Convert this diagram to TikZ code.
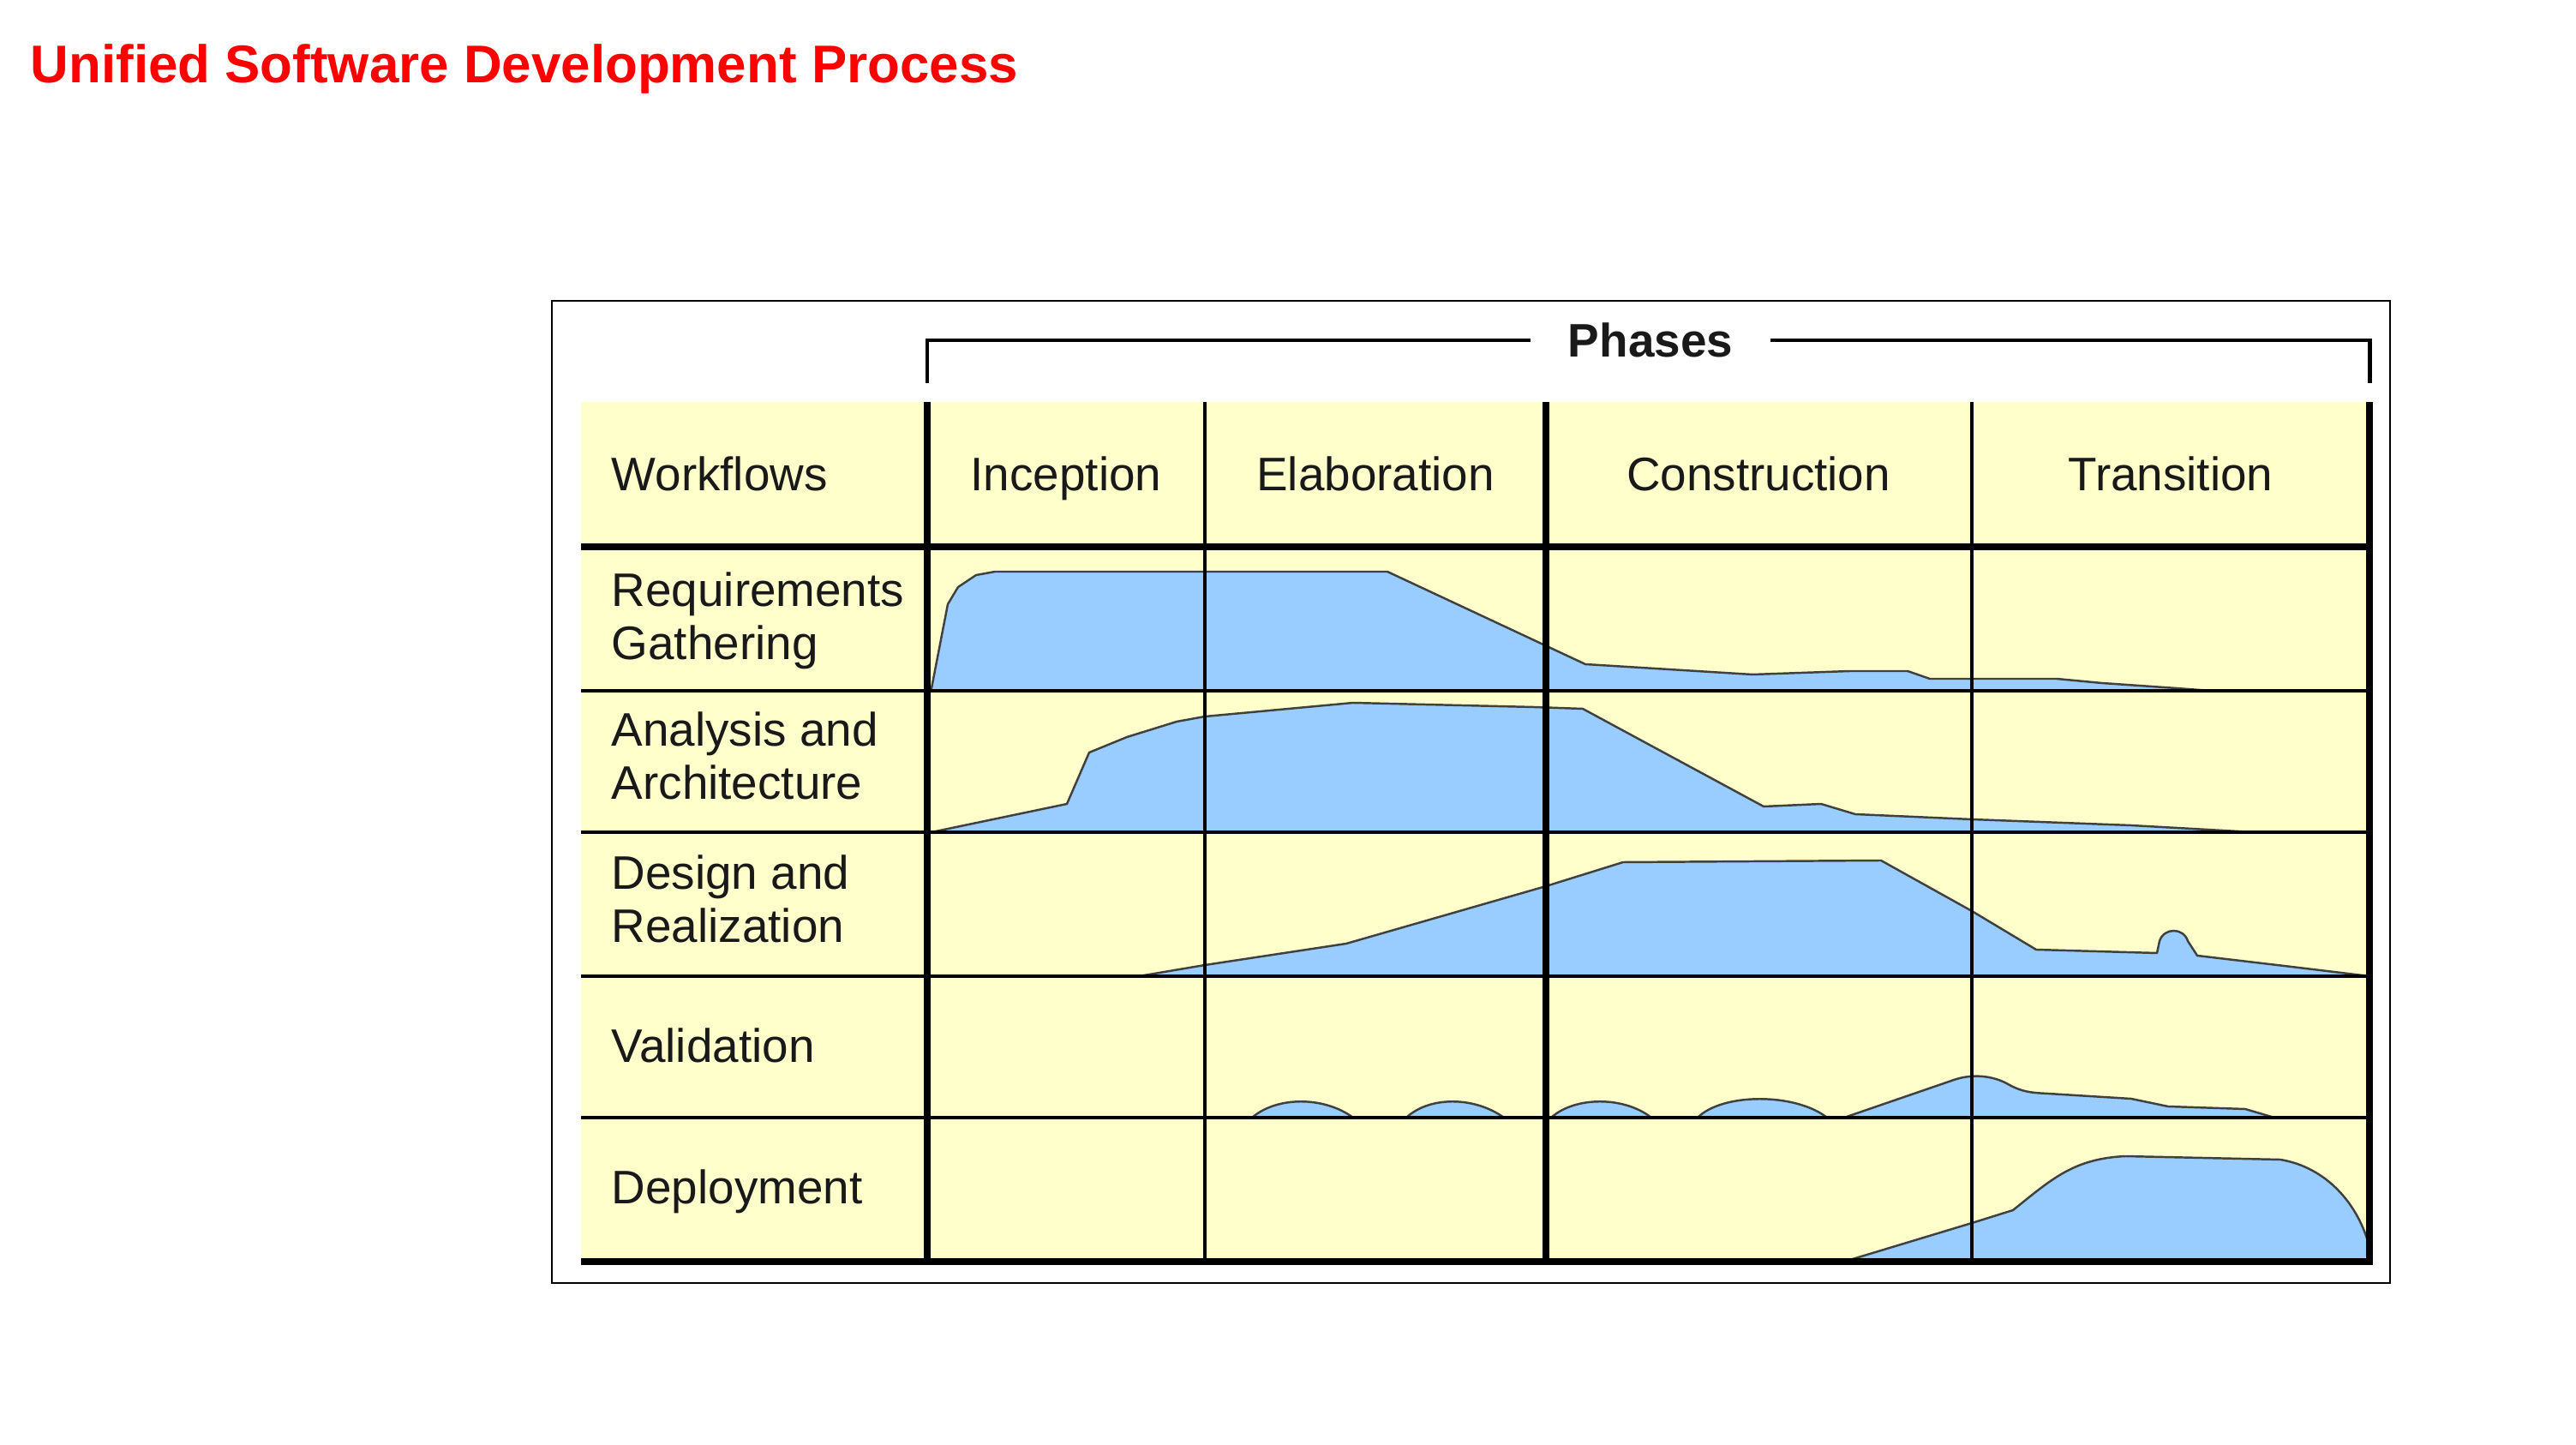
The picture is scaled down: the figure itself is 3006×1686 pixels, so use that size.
\documentclass[tikz,border=0pt]{standalone}
\usepackage{fontspec}
\setmainfont{Liberation Sans}
\definecolor{cellyellow}{HTML}{FFFFCC}
\definecolor{effortblue}{HTML}{99CCFF}
\definecolor{titlered}{HTML}{FF0000}
\begin{document}
\begin{tikzpicture}[x=0.01cm,y=-0.01cm,
  grid thin/.style={line width=0.9pt,black},
  grid thick/.style={line width=2.2pt,black},
  effort/.style={fill=effortblue,draw=black!75,line width=0.7pt,line join=round},
  wf/.style={font=\fontsize{15.6}{17.9}\selectfont,text=black!90,inner sep=0,align=left,anchor=base west},
  ph/.style={font=\fontsize{15.6}{17.9}\selectfont,text=black!90,inner sep=0,anchor=base},
]
% canvas
\fill[white] (0,0) rectangle (3006,1686);
\useasboundingbox (0,0) rectangle (3006,1686);

% title
\node[font=\bfseries\fontsize{17.6}{20}\selectfont,text=titlered,inner sep=0,anchor=base west] (title) at (35,97) {Unified Software Development Process};

% frame
\draw[line width=0.7pt] (644,351) rectangle (2789,1497);

% table background
\fill[cellyellow] (678,469) rectangle (2765,1472);

% effort curves
\filldraw[effort] (1082,806) -- (1087,803) -- (1106,705) -- (1118,685) -- (1139,671) -- (1161,667) -- (1619,667)
  -- (1850,775) -- (2045,787) -- (2159,783) -- (2226,783) -- (2252,792) -- (2400,792)
  -- (2453,797) -- (2540,803) -- (2580,806) -- cycle;

\filldraw[effort] (1087,971) -- (1245,938) -- (1271,878) -- (1315,860) -- (1373,842) -- (1406,836)
  -- (1579,820) -- (1790,825) -- (1847,827) -- (2058,941) -- (2125,938) -- (2165,950)
  -- (2301,956) -- (2487,963) -- (2630,971) -- cycle;

\filldraw[effort] (1329,1139) -- (1406,1126) -- (1571,1101) -- (1804,1034) -- (1894,1006)
  -- (2195,1004) -- (2301,1063) -- (2376,1108) -- (2517,1112) -- (2520,1098)
  .. controls (2525,1082) and (2548,1082) .. (2553,1098) -- (2564,1115) -- (2674,1128)
  -- (2765,1139) -- cycle;

\filldraw[effort] (1461,1304) .. controls (1490,1279) and (1545,1279) .. (1579,1304) -- cycle;
\filldraw[effort] (1641,1304) .. controls (1668,1279) and (1720,1279) .. (1755,1304) -- cycle;
\filldraw[effort] (1810,1304) .. controls (1838,1279) and (1895,1279) .. (1927,1304) -- cycle;
\filldraw[effort] (1981,1304) .. controls (2010,1275) and (2095,1275) .. (2132,1304) -- cycle;
\filldraw[effort] (2152,1304) -- (2280,1260) .. controls (2300,1253) and (2325,1254) .. (2345,1266)
  .. controls (2360,1274) and (2370,1275) .. (2390,1276) -- (2487,1282) -- (2530,1291)
  -- (2620,1294) -- (2654,1304) -- cycle;

\filldraw[effort] (2152,1472) -- (2301,1427) -- (2349,1412)
  .. controls (2395,1375) and (2420,1352) .. (2480,1349) -- (2661,1353)
  .. controls (2715,1362) and (2752,1405) .. (2765,1455) -- (2765,1472) -- cycle;

% grid
\foreach \y in {806,971,1139,1304} \draw[grid thin] (678,\y) -- (2765,\y);
\draw[grid thick] (678,638) -- (2765,638);
\draw[grid thick] (678,1472) -- (2769,1472);
\foreach \x in {1406,2301} \draw[grid thin] (\x,469) -- (\x,1472);
\foreach \x in {1082,1804,2765} \draw[grid thick] (\x,469) -- (\x,1476);

% phases bracket
\node[font=\bfseries\fontsize{15.6}{17.9}\selectfont,text=black!90,inner ysep=0,inner xsep=0.43cm] (phases) at (1926,397) {Phases};
\draw[line width=1.4pt] (1082,447) |- (phases.west);
\draw[line width=1.4pt] (phases.east) -| (2765,447);

% header row
\node[wf] (hwf) at (713,573) {Workflows};
\node[ph] (hinc) at (1244,573) {Inception};
\node[ph] (hela) at (1605,573) {Elaboration};
\node[ph] (hcon) at (2052,573) {Construction};
\node[ph] (htra) at (2533,573) {Transition};

% workflow labels (base = baseline of the last line)
\node[wf] (req) at (713,770) {Requirements\\Gathering};
\node[wf] (ana) at (713,933) {Analysis and\\Architecture};
\node[wf] (des) at (713,1100) {Design and\\Realization};
\node[wf] (val) at (713,1240) {Validation};
\node[wf] (dep) at (713,1404) {Deployment};
\end{tikzpicture}
\end{document}
